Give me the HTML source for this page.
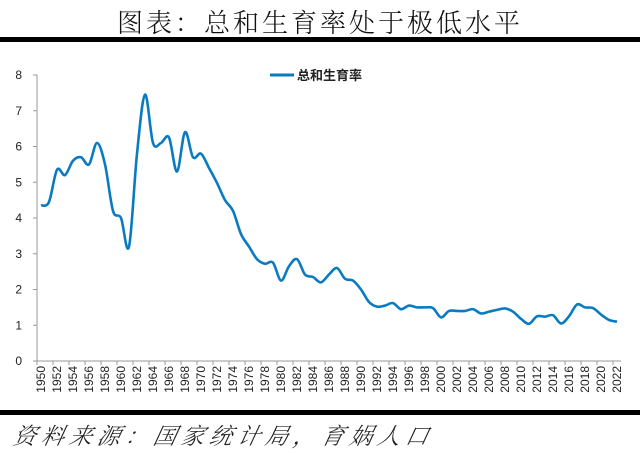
<!DOCTYPE html>
<html><head><meta charset="utf-8"><style>
body{margin:0;background:#fff;width:640px;height:453px;overflow:hidden;position:relative;font-family:"Liberation Sans","Noto Sans CJK SC",sans-serif}
.t{position:absolute;top:3px;left:0;width:640px;text-align:center;font-size:26px;letter-spacing:3px;color:#111;font-family:"Noto Serif CJK SC","Noto Sans CJK SC",serif;font-weight:300}
.src{position:absolute;left:14px;top:418px;font-size:23px;font-style:italic;color:#222;font-family:"Noto Serif CJK SC",serif;font-weight:300;transform:skewX(-12deg);letter-spacing:5px}
</style></head><body>
<div class="t">图表：总和生育率处于极低水平</div>
<svg id="s" width="640" height="453" style="position:absolute;left:0;top:0">
<rect x="0" y="37" width="640" height="5" fill="#000"/>
<rect x="0" y="410" width="640" height="5" fill="#000"/>
<line x1="270" y1="75" x2="294" y2="75" stroke="#0a7bc1" stroke-width="3"/>
<text x="297" y="80" font-size="13" font-weight="bold" fill="#222" font-family="Noto Sans CJK SC,sans-serif">总和生育率</text>
</svg>
<div class="src">资料来源：国家统计局，育娲人口</div>
<script>
var s=document.getElementById('s'),h='';
function Y(v){return 361-v*35.75}function X(y){return 41+(y-1950)*8}
h+='<line x1="37" y1="75" x2="37" y2="361" stroke="#999"/><line x1="37" y1="361" x2="621" y2="361" stroke="#999"/>';
for(var i=0;i<=8;i++){h+='<line x1="33" y1="'+Y(i)+'" x2="37" y2="'+Y(i)+'" stroke="#999"/><text x="22" y="'+(Y(i)+4)+'" font-size="12" text-anchor="end" fill="#222">'+i+'</text>';}
for(var y=1950;y<=2022;y+=2){var x=X(y);h+='<line x1="'+(x-4)+'" y1="361" x2="'+(x-4)+'" y2="365" stroke="#999"/><text transform="translate('+(x+4)+',366) rotate(-90)" font-size="12" text-anchor="end" fill="#222">'+y+'</text>';}
var d=[4.35,4.45,5.35,5.2,5.6,5.7,5.5,6.1,5.5,4.2,4.0,3.2,5.8,7.45,6.1,6.1,6.25,5.3,6.4,5.7,5.8,5.4,4.98,4.5,4.2,3.55,3.2,2.85,2.72,2.75,2.25,2.65,2.85,2.42,2.35,2.2,2.42,2.6,2.3,2.25,2.0,1.65,1.52,1.55,1.62,1.45,1.55,1.5,1.5,1.48,1.22,1.4,1.4,1.4,1.45,1.33,1.38,1.43,1.47,1.38,1.18,1.04,1.25,1.24,1.28,1.05,1.25,1.58,1.5,1.48,1.3,1.15,1.1];
var p=d.map(function(v,i){return [X(1950+i),Y(v)]});
var path='M'+p[0][0]+','+p[0][1];
for(var i=0;i<p.length-1;i++){var a=p[Math.max(i-1,0)],b=p[i],c=p[i+1],e=p[Math.min(i+2,p.length-1)];
path+='C'+(b[0]+(c[0]-a[0])/6)+','+(b[1]+(c[1]-a[1])/6)+' '+(c[0]-(e[0]-b[0])/6)+','+(c[1]-(e[1]-b[1])/6)+' '+c[0]+','+c[1];}
h+='<path d="'+path+'" fill="none" stroke="#0a7bc1" stroke-width="2.6"/>';
s.insertAdjacentHTML('beforeend',h);
</script>
</body></html>
